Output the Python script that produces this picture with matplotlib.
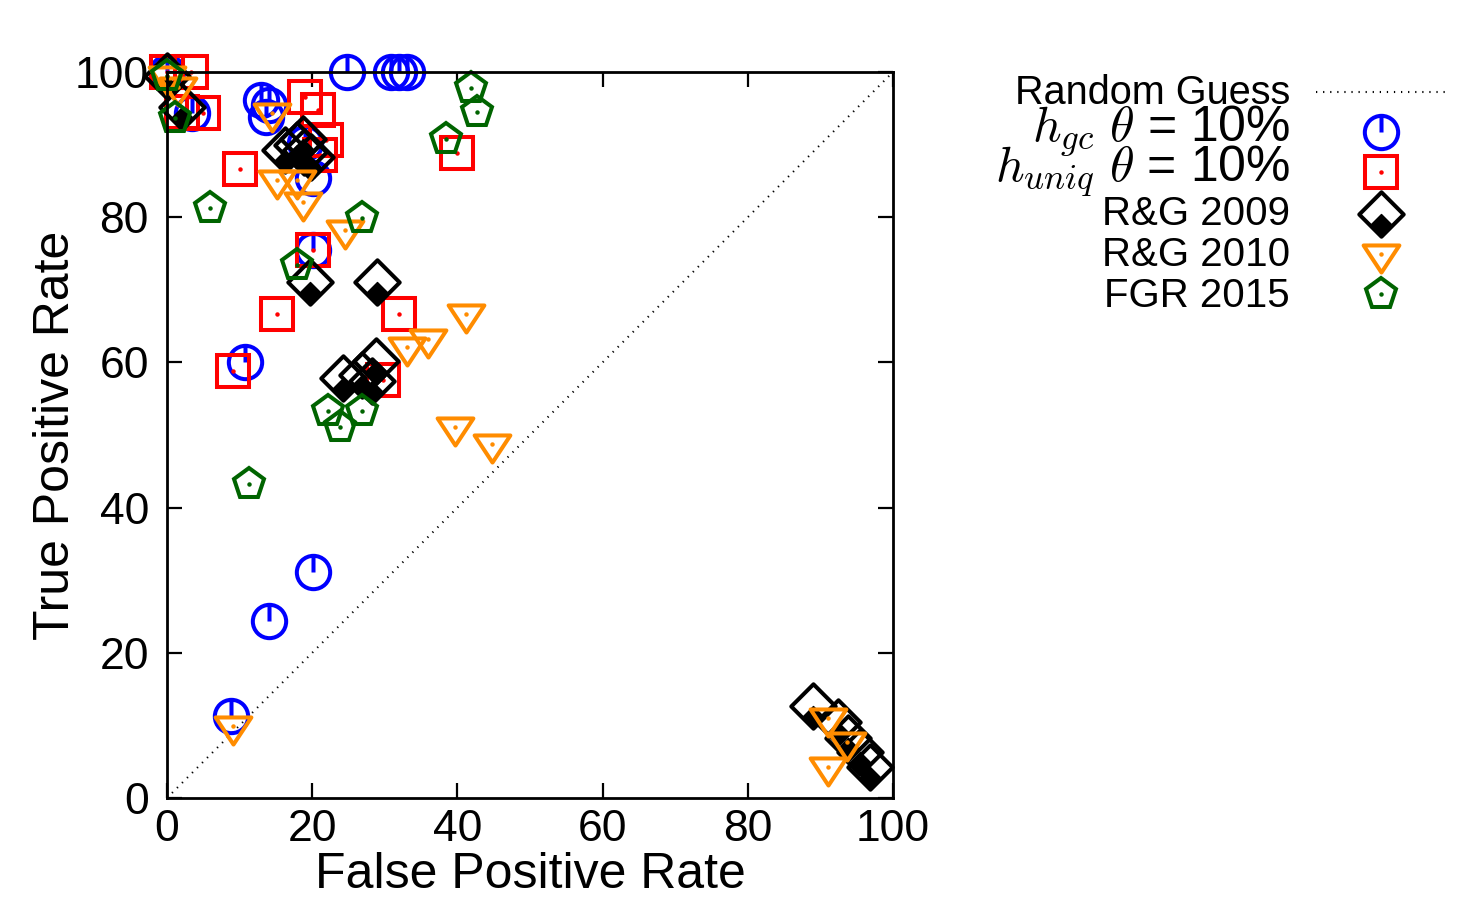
import matplotlib
matplotlib.use("Agg")
import matplotlib.pyplot as plt
from matplotlib.path import Path

plt.rcParams['font.family'] = ['Liberation Sans', 'DejaVu Sans']
plt.rcParams['mathtext.fontset'] = 'cm'

# h_gc theta = 10%
hgc_fpr = [0, 3.5, 13, 14, 13.6, 19, 20.1, 20.1, 24.8, 30.8, 31.9, 33, 10.8, 20.1, 14, 8.8]
hgc_tpr = [100, 94.4, 96.2, 95.4, 93.8, 90.2, 85.4, 75.5, 100, 100, 100, 100, 60, 31.1, 24.4, 11.3]

# h_uniq theta = 10%
huniq_fpr = [0, 3.3, 2, 4.9, 10.1, 19, 20.8, 21.9, 21.1, 40, 20.1, 15.2, 31.9, 9.1, 29.7]
huniq_tpr = [100, 100, 94.5, 94.4, 86.6, 96.5, 94.8, 90.6, 88.6, 88.8, 75.5, 66.7, 66.7, 58.8, 57.6]

# R&G 2009
rg09_fpr = [0, 2, 16.2, 17.9, 18.7, 19.8, 18.9, 19.7, 28.9, 24.3, 26.9, 28.8, 28.3, 89.0, 92.4, 93.8, 95.5, 96.8]
rg09_tpr = [99.5, 95.2, 89.3, 90, 90.8, 88.3, 89, 71.1, 71.1, 57.9, 58.2, 60.2, 57.5, 12.7, 10.5, 8.3, 6.3, 4.3]

# R&G 2010
rg10_fpr = [0, 1.5, 14.5, 15.2, 17.9, 18.8, 24.5, 41.2, 35.9, 33, 39.7, 44.7, 9.1, 91.0, 93.7, 91.0]
rg10_tpr = [99.5, 98, 94.4, 85.1, 85.1, 82.1, 78.2, 66.7, 63.2, 62.1, 51.1, 48.8, 9.9, 11, 7.7, 4.3]

# FGR 2015
fgr_fpr = [0, 1.1, 5.9, 41.9, 42.7, 38.4, 26.9, 17.9, 22.2, 26.8, 23.8, 11.3]
fgr_tpr = [99.5, 93.7, 81.2, 97.8, 94.5, 90.8, 79.9, 73.4, 53.3, 53.3, 51.1, 43.3]

ticks = [0, 20, 40, 60, 80, 100]

BLUE = '#0000ff'
RED = '#ff0000'
ORANGE = '#ff8c00'
GREEN = '#006400'

# gnuplot-like point shapes
circ = Path.make_compound_path(Path.unit_circle(),
                               Path([(0, 0), (0, 1)], [Path.MOVETO, Path.LINETO]))
diamond = Path([(0, 1), (1, 0), (0, -1), (-1, 0), (0, 1)],
               [Path.MOVETO, Path.LINETO, Path.LINETO, Path.LINETO, Path.CLOSEPOLY])
diamond_low = Path([(0, 0), (0.5, -0.5), (0, -1), (-0.5, -0.5), (0, 0)],
                   [Path.MOVETO, Path.LINETO, Path.LINETO, Path.LINETO, Path.CLOSEPOLY])
tri = Path([(-0.99, 0.5), (0.99, 0.5), (0, -1), (-0.99, 0.5)],
           [Path.MOVETO, Path.LINETO, Path.LINETO, Path.CLOSEPOLY])

MEW = 2.9
DOTS = (0, (0.6, 2.8))


def draw_series(ax, x, y, kind):
    if kind == 'circ':
        ax.plot(x, y, ls='none', marker=circ, ms=24, mfc='none', mec=BLUE, mew=MEW, clip_on=False)
    elif kind == 'sq':
        ax.plot(x, y, ls='none', marker='s', ms=23, mfc='none', mec=RED, mew=MEW, clip_on=False)
        ax.plot(x, y, ls='none', marker='o', ms=2.2, color=RED, clip_on=False)
    elif kind == 'dia':
        ax.plot(x, y, ls='none', marker=diamond, ms=32, mfc='none', mec='black', mew=MEW, clip_on=False)
        ax.plot(x, y, ls='none', marker=diamond_low, ms=32, mfc='black', mec='black', mew=1, clip_on=False)
    elif kind == 'tri':
        ax.plot(x, y, ls='none', marker=tri, ms=26, mfc='none', mec=ORANGE, mew=MEW, clip_on=False)
        ax.plot(x, y, ls='none', marker='o', ms=2.2, color=ORANGE, clip_on=False)
    elif kind == 'pent':
        ax.plot(x, y, ls='none', marker='p', ms=23, mfc='none', mec=GREEN, mew=MEW, clip_on=False)
        ax.plot(x, y, ls='none', marker='o', ms=2.2, color=GREEN, clip_on=False)


fig = plt.figure(figsize=(14.6, 9.07), dpi=100)
ax = fig.add_axes([167 / 1460, 1 - 798 / 907, (893 - 167) / 1460, (798 - 72) / 907])

ax.plot([0, 100], [0, 100], ls=DOTS, color='black', lw=1.5)
draw_series(ax, hgc_fpr, hgc_tpr, 'circ')
draw_series(ax, huniq_fpr, huniq_tpr, 'sq')
draw_series(ax, rg09_fpr, rg09_tpr, 'dia')
draw_series(ax, rg10_fpr, rg10_tpr, 'tri')
draw_series(ax, fgr_fpr, fgr_tpr, 'pent')

ax.set_xlim(0, 100)
ax.set_ylim(0, 100)
ax.set_xticks(ticks)
ax.set_yticks(ticks)
ax.tick_params(direction='in', length=11, width=1.6, labelsize=32,
               top=True, right=True)
ax.tick_params(axis='x', pad=8)
ax.tick_params(axis='y', pad=13)
for s in ax.spines.values():
    s.set_linewidth(2.0)
ax.set_xlabel('False Positive Rate', fontsize=36, labelpad=1)
ax.set_ylabel('True Positive Rate', fontsize=36, labelpad=-3)

# legend drawn in pixel coordinates
lg = fig.add_axes([0, 0, 1, 1])
lg.set_xlim(0, 1460)
lg.set_ylim(907, 0)
lg.axis('off')
tx = 1290
lg.text(tx, 93, 'Random Guess', fontsize=28.5, ha='right', va='center')
lg.plot([1316, 1446], [92, 92], ls=DOTS, color='black', lw=1.5)
lg.text(tx, 131, r'$h_{gc}$ $\theta$ = 10%', fontsize=36, ha='right', va='center')
lg.text(tx, 171, r'$h_{uniq}$ $\theta$ = 10%', fontsize=36, ha='right', va='center')
lg.text(tx, 214, 'R&G 2009', fontsize=29, ha='right', va='center')
lg.text(tx, 255, 'R&G 2010', fontsize=29, ha='right', va='center')
lg.text(tx, 296, 'FGR 2015', fontsize=29, ha='right', va='center')
mx = 1381
draw_series(lg, [mx], [132], 'circ')
draw_series(lg, [mx], [172], 'sq')
draw_series(lg, [mx], [214], 'dia')
draw_series(lg, [mx], [254], 'tri')
draw_series(lg, [mx], [294], 'pent')

fig.savefig('out.png', dpi=100)
